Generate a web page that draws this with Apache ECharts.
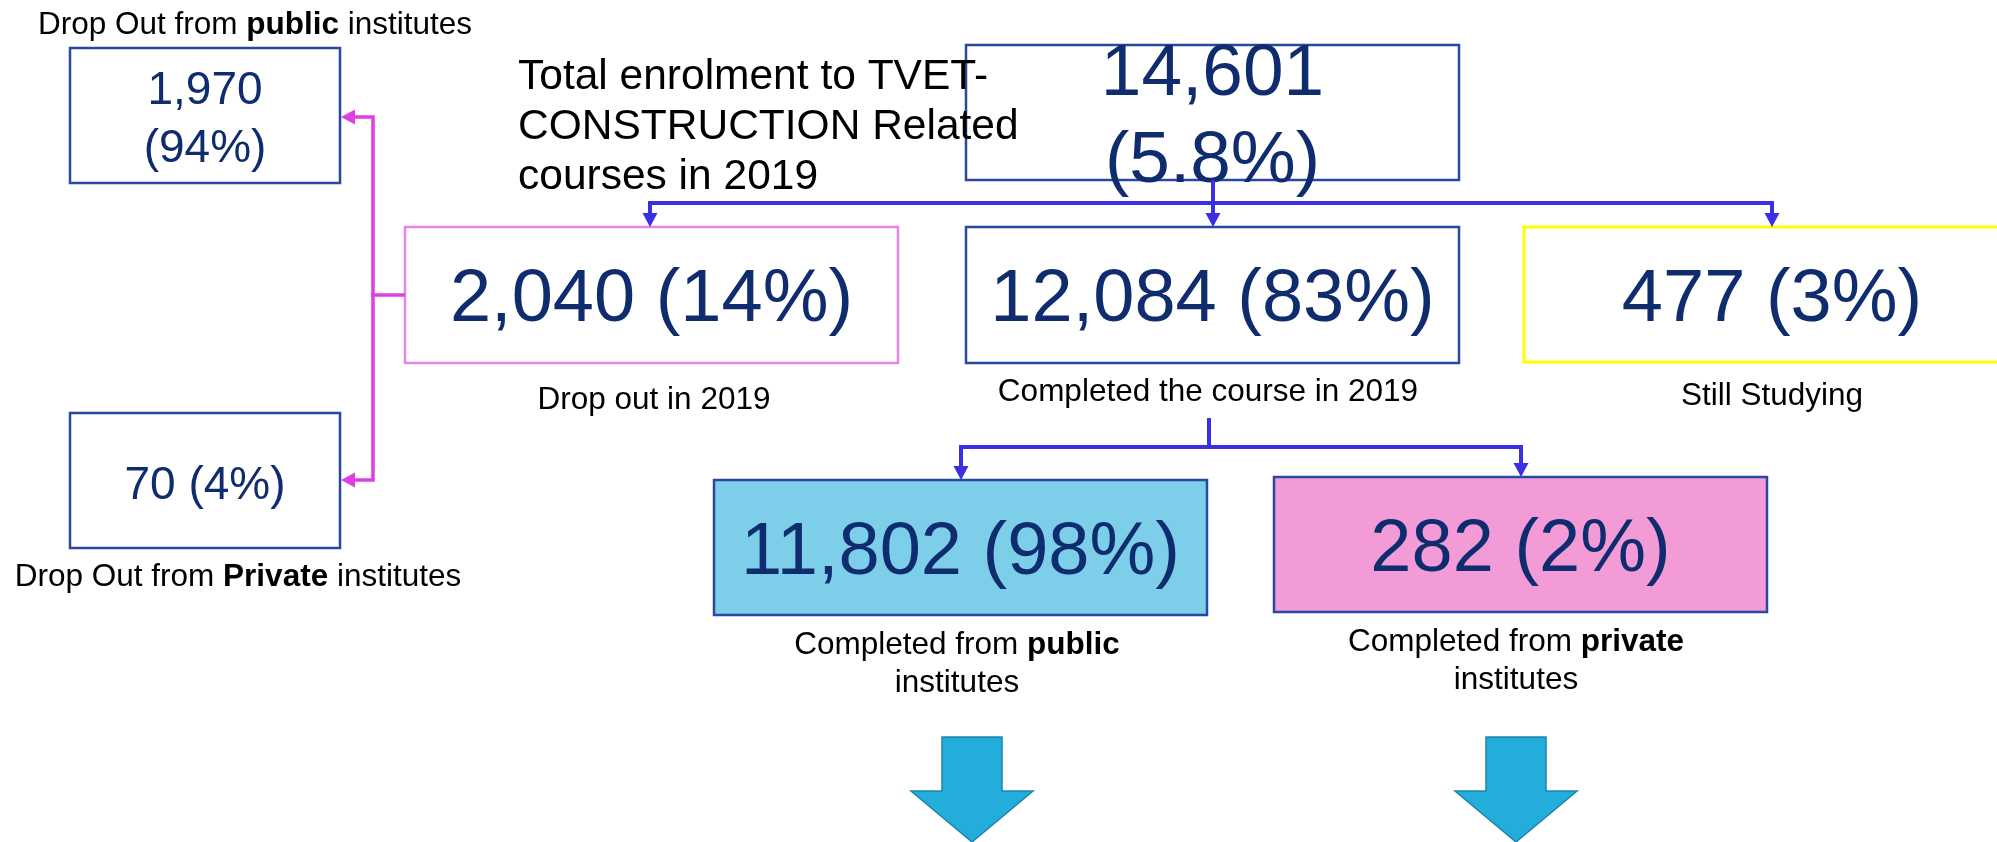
<!DOCTYPE html>
<html><head><meta charset="utf-8">
<script src="https://cdn.jsdelivr.net/npm/echarts@6/dist/echarts.min.js"></script>
<style>html,body{margin:0;padding:0;background:#fff}#c{width:1997px;height:842px}</style>
</head><body><div id="c"></div>
<script>
// ---- data ----
const nodeKeys = ['total', 'dropout', 'completed', 'studying', 'dropPublic', 'dropPrivate', 'compPublic', 'compPrivate'];
const nodeCounts = [14601, 2040, 12084, 477, 1970, 70, 11802, 282];
const nodeShares = ['5.8', '14', '83', '3', '94', '4', '98', '2'];
const nodeCaptions = [
  '',
  'Drop out in 2019',
  'Completed the course in 2019',
  'Still Studying',
  'Drop Out from {b|public} institutes',
  'Drop Out from {b|Private} institutes',
  'Completed from {b|public}\ninstitutes',
  'Completed from {b|private}\ninstitutes'
];
const titleLines = ['Total enrolment to TVET-', 'CONSTRUCTION Related', 'courses in 2019'];

// ---- layout & styles (diagram coordinates) ----
const FONT = 'Liberation Sans, Arial, sans-serif';
const NAVY = '#0F2D6E', BORDER = '#2B48A0';
const CAP_FONT = 31.5;
const layout = {
  total:       {box: [966, 45, 1459, 180],   stroke: BORDER,    fill: null,      lw: 2.5, valueY: 118, wrap: true, font: 73, lh: 87},
  dropout:     {box: [405, 227, 898, 363],   stroke: '#E883E8', fill: null,      lw: 2.5, valueY: 301, font: 74, lh: 80},
  completed:   {box: [966, 227, 1459, 363],  stroke: BORDER,    fill: null,      lw: 2.5, valueY: 301, font: 74, lh: 80},
  studying:    {box: [1524, 227, 2020, 362], stroke: '#FFFF00', fill: null,      lw: 3,   valueY: 301, font: 74, lh: 80},
  dropPublic:  {box: [70, 48, 340, 183],     stroke: BORDER,    fill: null,      lw: 2.5, valueY: 120, wrap: true, font: 46, lh: 58},
  dropPrivate: {box: [70, 413, 340, 548],    stroke: BORDER,    fill: null,      lw: 2.5, valueY: 486, font: 46, lh: 52},
  compPublic:  {box: [714, 480, 1207, 615],  stroke: BORDER,    fill: '#7DCEE9', lw: 2.5, valueY: 554, font: 74, lh: 80},
  compPrivate: {box: [1274, 477, 1767, 612], stroke: BORDER,    fill: '#F29BD6', lw: 2.5, valueY: 551, font: 74, lh: 80}
};
const captionPos = {
  dropout: [654, 400], completed: [1208, 392], studying: [1772, 396],
  dropPublic: [255, 25], dropPrivate: [238, 577],
  compPublic: [957, 664], compPrivate: [1516, 661]
};
const BLUE = '#3B2FE6', MAG = '#DE3FE3';
const connectors = [
  {color: BLUE, w: 4, pts: [[1213, 180], [1213, 227]], arrow: true},
  {color: BLUE, w: 4, pts: [[1213, 203], [650, 203], [650, 227]], arrow: true},
  {color: BLUE, w: 4, pts: [[1213, 203], [1772, 203], [1772, 227]], arrow: true},
  {color: BLUE, w: 4, pts: [[1209, 418], [1209, 447], [961, 447], [961, 480]], arrow: true},
  {color: BLUE, w: 4, pts: [[1209, 447], [1521, 447], [1521, 477]], arrow: true},
  {color: MAG, w: 3.5, pts: [[405, 295], [373, 295]], arrow: false},
  {color: MAG, w: 3.5, pts: [[373, 297], [373, 117], [341, 117]], arrow: true},
  {color: MAG, w: 3.5, pts: [[373, 293], [373, 480], [341, 480]], arrow: true}
];
const bigArrows = [{cx: 972}, {cx: 1516}];
const bigArrowShape = {top: 737, neck: 791, tip: 842, shaft: 30, head: 61};

function valueLabel(i) {
  const L = layout[nodeKeys[i]];
  return nodeCounts[i].toLocaleString('en-US') + (L.wrap ? '\n' : ' ') + '(' + nodeShares[i] + '%)';
}

const chart = echarts.init(document.getElementById('c'), null, {renderer: 'canvas'});
chart.setOption({
  backgroundColor: '#ffffff',
  animation: false,
  title: {
    text: titleLines.join('\n'),
    left: 518, top: 52, padding: 0,
    textStyle: {fontFamily: FONT, fontSize: 42.5, fontWeight: 'normal', color: '#000', lineHeight: 50}
  },
  grid: {left: 0, right: 0, top: 0, bottom: 0},
  xAxis: {type: 'value', min: 0, max: 1997, show: false},
  yAxis: {type: 'value', min: 0, max: 842, inverse: true, show: false},
  series: [
    {
      type: 'custom', coordinateSystem: 'cartesian2d', clip: false, z: 2,
      data: nodeCounts.map((v, i) => [i, 0, v]),
      renderItem: function (params, api) {
        const i = params.dataIndex;
        const key = nodeKeys[i];
        const L = layout[key];
        const p0 = api.coord([L.box[0], L.box[1]]);
        const p1 = api.coord([L.box[2], L.box[3]]);
        const children = [{
          type: 'rect',
          shape: {x: p0[0], y: p0[1], width: p1[0] - p0[0], height: p1[1] - p0[1]},
          style: {fill: L.fill || 'none', stroke: L.stroke, lineWidth: L.lw}
        }];
        const vc = api.coord([(L.box[0] + L.box[2]) / 2, L.valueY]);
        children.push({
          type: 'text', x: vc[0], y: vc[1], z2: 5,
          style: {text: valueLabel(i), fontFamily: FONT, fontSize: L.font, lineHeight: L.lh,
                  fill: NAVY, align: 'center', verticalAlign: 'middle'}
        });
        if (nodeCaptions[i]) {
          const cp = api.coord(captionPos[key]);
          children.push({
            type: 'text', x: cp[0], y: cp[1],
            style: {text: nodeCaptions[i], fontFamily: FONT, fontSize: CAP_FONT, lineHeight: 38,
                    fill: '#000', align: 'center', verticalAlign: 'middle',
                    rich: {b: {fontFamily: FONT, fontSize: CAP_FONT, lineHeight: 38, fontWeight: 'bold', fill: '#000'}}}
          });
        }
        return {type: 'group', children: children};
      }
    },
    {
      type: 'custom', coordinateSystem: 'cartesian2d', clip: false, z: 5,
      data: connectors.map((c, i) => [i, 0]),
      renderItem: function (params, api) {
        const c = connectors[params.dataIndex];
        const pts = c.pts.map(p => api.coord(p));
        const children = [];
        const AL = 14, AW = 7.5;
        if (c.arrow) {
          const n = pts.length;
          const tip = pts[n - 1], prev = pts[n - 2];
          const dx = tip[0] - prev[0], dy = tip[1] - prev[1];
          const len = Math.sqrt(dx * dx + dy * dy);
          const ux = dx / len, uy = dy / len;
          const base = [tip[0] - ux * AL, tip[1] - uy * AL];
          const linePts = pts.slice(0, n - 1).concat([[base[0] + ux * 1, base[1] + uy * 1]]);
          children.push({type: 'polyline', shape: {points: linePts},
            style: {stroke: c.color, lineWidth: c.w, fill: 'none', lineJoin: 'miter', lineCap: 'butt'}});
          children.push({type: 'polygon', shape: {points: [
            tip, [base[0] - uy * AW, base[1] + ux * AW], [base[0] + uy * AW, base[1] - ux * AW]]},
            style: {fill: c.color}});
        } else {
          children.push({type: 'polyline', shape: {points: pts},
            style: {stroke: c.color, lineWidth: c.w, fill: 'none', lineJoin: 'miter', lineCap: 'butt'}});
        }
        return {type: 'group', children: children};
      }
    },
    {
      type: 'custom', coordinateSystem: 'cartesian2d', clip: false, z: 3,
      data: bigArrows.map((a, i) => [i, 0]),
      renderItem: function (params, api) {
        const a = bigArrows[params.dataIndex], S = bigArrowShape;
        const raw = [
          [a.cx - S.shaft, S.top], [a.cx + S.shaft, S.top], [a.cx + S.shaft, S.neck],
          [a.cx + S.head, S.neck], [a.cx, S.tip], [a.cx - S.head, S.neck], [a.cx - S.shaft, S.neck]
        ];
        return {type: 'polygon', shape: {points: raw.map(p => api.coord(p))},
          style: {fill: '#23ADDA', stroke: '#1C86AC', lineWidth: 1.5}};
      }
    }
  ]
});
</script></body></html>
